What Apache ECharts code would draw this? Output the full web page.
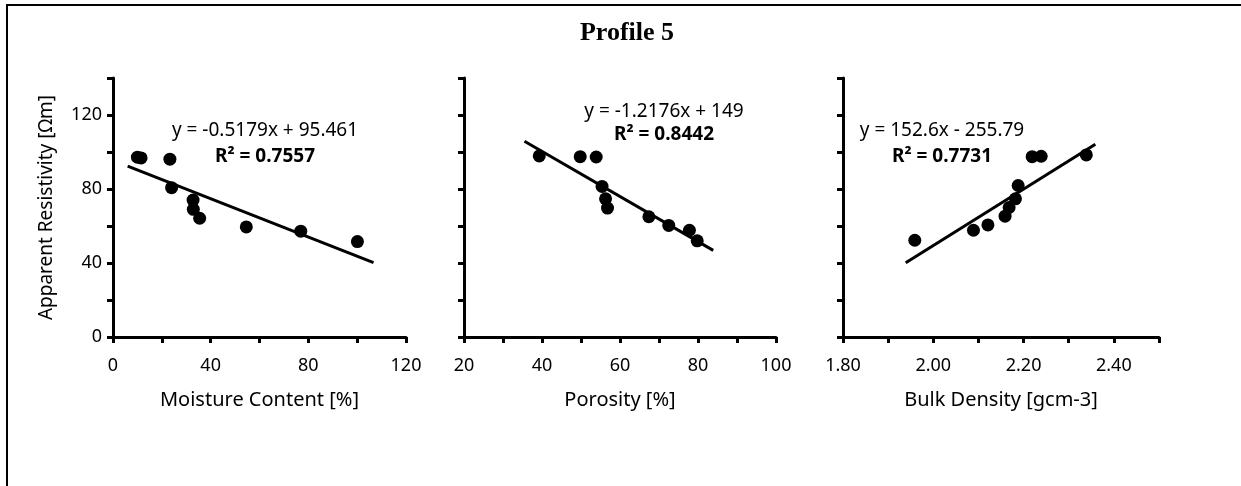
<!DOCTYPE html>
<html>
<head>
<meta charset="utf-8">
<script src="https://cdn.jsdelivr.net/npm/echarts@6/dist/echarts.min.js"></script>
<style>
  html, body { margin: 0; padding: 0; background: #fff; }
  #chart { width: 1241px; height: 486px; }
</style>
</head>
<body>
<div id="chart"></div>
<script>
// values
const moisture = [10.0, 11.5, 23.3, 24.0, 32.8, 32.9, 35.5, 54.6, 76.9, 100.1];
const resistMoist = [97.2, 96.8, 96.1, 80.7, 74.0, 69.0, 64.2, 59.5, 57.2, 51.6];
const porosity = [39.3, 49.8, 53.9, 55.4, 56.3, 56.8, 67.4, 72.5, 77.8, 79.8];
const resistPor = [97.9, 97.5, 97.3, 81.4, 74.7, 69.7, 65.0, 60.3, 57.7, 52.0];
const density = [1.959, 2.089, 2.121, 2.159, 2.168, 2.182, 2.188, 2.219, 2.239, 2.339];
const resistDen = [52.3, 57.7, 60.6, 65.3, 70.0, 74.7, 81.9, 97.5, 97.7, 98.4];

// linear trend line end points
const trendMoistX = [6.0, 106.7];
const trendMoistY = [92.35, 40.2];
const trendPorX = [35.5, 83.9];
const trendPorY = [105.8, 46.8];
const trendDenX = [1.939, 2.359];
const trendDenY = [40.1, 104.2];

const equations = ['y = -0.5179x + 95.461', 'y = -1.2176x + 149', 'y = 152.6x - 255.79'];
const rSquared = ['0.7557', '0.8442', '0.7731'];
const xNames = ['Moisture Content [%]', 'Porosity [%]', 'Bulk Density [gcm-3]'];

const FONT = 'Noto Sans';
const zip = (xs, ys) => xs.map((x, i) => [x, ys[i]]);

const chart = echarts.init(document.getElementById('chart'));

const gridBoxes = [
  { left: 113, top: 78, width: 293, height: 259 },
  { left: 464, top: 78, width: 312, height: 259 },
  { left: 843, top: 78, width: 316, height: 259 },
];

const axisLineStyle = { color: '#000', width: 3 };

const xAxisBase = (idx, name, min, max, interval, fmt) => ({
  gridIndex: idx,
  type: 'value',
  min: min,
  max: max,
  interval: interval,
  name: name,
  nameLocation: 'middle',
  nameGap: 53,
  nameTextStyle: { fontFamily: FONT, fontSize: 20, color: '#000' },
  axisLine: { show: true, onZero: false, lineStyle: axisLineStyle },
  axisTick: { show: true, length: 6, lineStyle: { color: '#000', width: 3 } },
  splitLine: { show: false },
  axisLabel: { fontFamily: FONT, fontSize: 18, color: '#000', margin: 20, formatter: fmt },
});

const yAxisBase = (idx, showLabels) => ({
  gridIndex: idx,
  type: 'value',
  min: 0,
  max: 140,
  interval: 20,
  name: idx === 0 ? 'Apparent Resistivity [Ωm]' : '',
  nameLocation: 'middle',
  nameGap: 57,
  nameRotate: 90,
  nameTextStyle: { fontFamily: FONT, fontSize: 19, color: '#000' },
  axisLine: { show: true, onZero: false, lineStyle: axisLineStyle },
  axisTick: { show: true, length: 6, lineStyle: { color: '#000', width: 3 } },
  splitLine: { show: false },
  axisLabel: {
    show: showLabels,
    fontFamily: FONT, fontSize: 18, color: '#000', margin: 11,
    formatter: v => (v % 40 === 0 && v < 140 ? String(v) : ''),
  },
});

const scatter = (idx, data) => ({
  type: 'scatter',
  xAxisIndex: idx,
  yAxisIndex: idx,
  symbolSize: 13,
  itemStyle: { color: '#000', opacity: 1 },
  data: data,
});

const trend = (idx, data) => ({
  type: 'line',
  xAxisIndex: idx,
  yAxisIndex: idx,
  showSymbol: false,
  lineStyle: { color: '#000', width: 3 },
  data: data,
});

const eqText = (cx, y1, y2, i) => [
  {
    type: 'text', x: cx, y: y1,
    style: { text: equations[i], fontFamily: FONT, fontSize: 19, fill: '#000', align: 'center', verticalAlign: 'middle' },
  },
  {
    type: 'text', x: cx, y: y2,
    style: { text: 'R² = ' + rSquared[i], fontFamily: FONT, fontSize: 19, fontWeight: 'bold', fill: '#000', align: 'center', verticalAlign: 'middle' },
  },
];

chart.setOption({
  animation: false,
  backgroundColor: '#fff',
  grid: gridBoxes,
  xAxis: [
    xAxisBase(0, xNames[0], 0, 120, 20, v => (v % 40 === 0 ? String(v) : '')),
    xAxisBase(1, xNames[1], 20, 100, 10, v => (v % 20 === 0 ? String(v) : '')),
    xAxisBase(2, xNames[2], 1.8, 2.5, 0.1, v => (Math.round(v * 10) % 2 === 0 ? v.toFixed(2) : '')),
  ],
  yAxis: [yAxisBase(0, true), yAxisBase(1, false), yAxisBase(2, false)],
  series: [
    trend(0, zip(trendMoistX, trendMoistY)),
    trend(1, zip(trendPorX, trendPorY)),
    trend(2, zip(trendDenX, trendDenY)),
    scatter(0, zip(moisture, resistMoist)),
    scatter(1, zip(porosity, resistPor)),
    scatter(2, zip(density, resistDen)),
  ],
  graphic: [
    {
      type: 'rect',
      shape: { x: 7, y: 5, width: 1400, height: 700 },
      style: { fill: 'none', stroke: '#000', lineWidth: 2 },
      silent: true,
    },
    {
      type: 'text', x: 627, y: 33,
      style: { text: 'Profile 5', fontFamily: 'Liberation Serif', fontWeight: 'bold', fontSize: 26, fill: '#000', align: 'center', verticalAlign: 'middle' },
    },
    ...eqText(265, 131, 157, 0),
    ...eqText(664, 112, 135, 1),
    ...eqText(942, 131, 157, 2),
  ],
});
</script>
</body>
</html>
